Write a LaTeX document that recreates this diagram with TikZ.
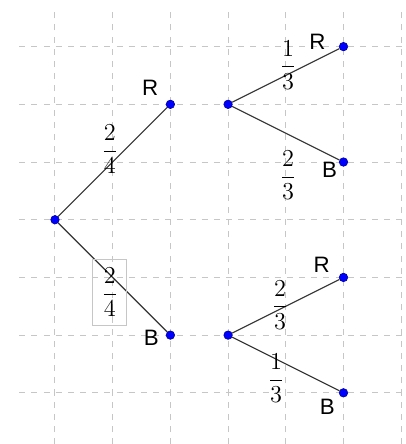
\documentclass[tikz,border=0pt]{standalone}
\usepackage{fontspec}
\newfontfamily\labelfont{Liberation Sans}
\tikzset{
    dot/.style={circle, fill=blue, draw=blue!60!black, line width=0.3pt, inner sep=0pt, minimum size=4.2pt},
    branch/.style={black!80, line width=0.55pt},
    gridline/.style={dashed, gray!45, line width=0.5pt},
    outcome/.style={font=\labelfont\fontsize{11}{13}\selectfont},
    prob/.style={font=\large},
}
\begin{document}
\begin{tikzpicture}
        \useasboundingbox (-0.953,-3.887) rectangle (6.083,3.808);
        % grid
        \draw[gridline] (0,-3.89) -- (0,3.62);
        \draw[gridline] (1,-3.89) -- (1,3.62);
        \draw[gridline] (2,-3.89) -- (2,3.62);
        \draw[gridline] (3,-3.89) -- (3,3.62);
        \draw[gridline] (4,-3.89) -- (4,3.62);
        \draw[gridline] (5,-3.89) -- (5,3.62);
        \draw[gridline] (6,-3.89) -- (6,3.62);
        \draw[gridline] (-0.62,3) -- (6.08,3);
        \draw[gridline] (-0.62,2) -- (6.08,2);
        \draw[gridline] (-0.62,1) -- (6.08,1);
        \draw[gridline] (-0.62,0) -- (6.08,0);
        \draw[gridline] (-0.62,-1) -- (6.08,-1);
        \draw[gridline] (-0.62,-2) -- (6.08,-2);
        \draw[gridline] (-0.62,-3) -- (6.08,-3);

        % points
        \node[dot] (start) at (0,0) {};
        \node[dot] (red1) at (2,2) {};
        \node[dot] (blue1) at (2,-2) {};
        \node[dot] (top) at (3,2) {};
        \node[dot] (red2) at (5,3) {};
        \node[dot] (blue2) at (5,1) {};
        \node[dot] (bottom) at (3,-2) {};
        \node[dot] (red3) at (5,-1) {};
        \node[dot] (blue3) at (5,-3) {};

        % branches
        \draw[branch] (start) -- (red1);
        \draw[branch] (start) -- (blue1);
        \draw[branch] (top) -- (red2);
        \draw[branch] (top) -- (blue2);
        \draw[branch] (bottom) -- (red3);
        \draw[branch] (bottom) -- (blue3);

        % outcomes
        \node[outcome] (labR1) at (1.65,2.28) {R};
        \node[outcome] (labB1) at (1.67,-2.04) {B};
        \node[outcome] (labR2) at (4.55,3.08) {R};
        \node[outcome] (labB2) at (4.76,0.86) {B};
        \node[outcome] (labR3) at (4.62,-0.79) {R};
        \node[outcome] (labB3) at (4.72,-3.25) {B};

        % probabilities
        \node[prob] (p1) at (0.95,1.22) {$\displaystyle\frac{2}{4}$};
        \node[prob, draw=gray!45, line width=0.5pt, minimum width=0.59cm, minimum height=1.13cm, inner sep=1pt] (p2) at (0.95,-1.26) {$\displaystyle\frac{2}{4}$};
        \node[prob] (p3) at (4.04,2.68) {$\displaystyle\frac{1}{3}$};
        \node[prob] (p4) at (4.04,0.77) {$\displaystyle\frac{2}{3}$};
        \node[prob] (p5) at (3.9,-1.48) {$\displaystyle\frac{2}{3}$};
        \node[prob] (p6) at (3.83,-2.75) {$\displaystyle\frac{1}{3}$};
    \end{tikzpicture}
\end{document}
